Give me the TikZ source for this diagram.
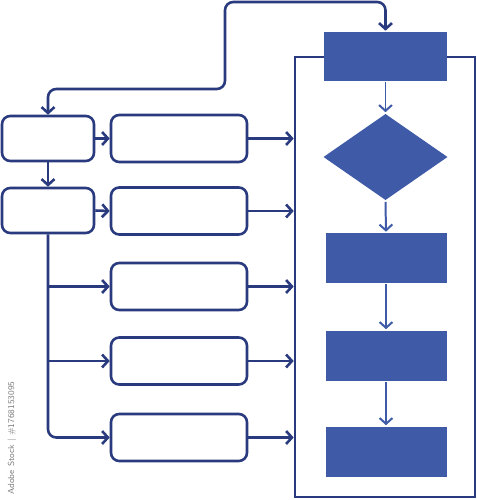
\documentclass[tikz,border=0pt]{standalone}
\usetikzlibrary{arrows.meta, shapes.geometric}
\definecolor{navy}{HTML}{2A3A7E}
\definecolor{chartblue}{HTML}{3F5BA8}

\begin{document}
\begin{tikzpicture}[x=0.03cm, y=-0.03cm,
  line width=2.2pt, navy,
  tip/.style={-{Straight Barb[length=5pt,width=11pt]}},
  leftbox/.style={draw, rounded corners=7pt, minimum width=2.76cm, minimum height=1.35cm},
  midbox/.style={draw, rounded corners=7pt, minimum width=4.08cm, minimum height=1.41cm},
  procbox/.style={fill=chartblue, draw=none, minimum width=3.63cm, minimum height=1.5cm},
  flow/.style={tip, chartblue, line width=1.7pt}]
\useasboundingbox (0,0) rectangle (477,500);

% outer frame on the right
\node[draw, minimum width=5.4cm, minimum height=13.2cm, inner sep=0] (frame) at (385,277) {};

% left column
\node[leftbox] (start) at (48,138.5) {};
\node[leftbox] (split) at (48,210.5) {};

% middle column
\node[midbox] (b1) at (179,138.5) {};
\node[midbox] (b2) at (179,211) {};
\node[midbox] (b3) at (179,286.5) {};
\node[midbox] (b4) at (179,361) {};
\node[midbox] (b5) at (179,437.5) {};

% right column
\node[fill=chartblue, minimum width=3.69cm, minimum height=1.47cm] (top) at (385.5,56.5) {};
\node[diamond, fill=chartblue, inner sep=0, minimum width=3.75cm, minimum height=2.61cm] (dec) at (385.5,157) {};
\node[procbox] (p1) at (386,258) {};
\node[procbox] (p2) at (386,355.5) {};
\node[procbox] (p3) at (386,451.5) {};

% loop back
\coordinate (bendA) at (225,89);
\coordinate (bendB) at (225,2);
\draw[{Straight Barb[length=5pt,width=11pt]}-{Straight Barb[length=5pt,width=11pt]}, rounded corners=7pt]
  (start.north) |- (bendA) -- (bendB) -| (top.north);

\draw[tip] (start.east) -- (b1.west);
\draw[tip] (split.east) -- (b2.west);
\draw[tip] (start.south) -- (split.north);
\draw[tip, rounded corners=7pt] (split.south) |- (b5.west);
\draw[tip] (split.south |- b3.west) -- (b3.west);
\draw[tip] (split.south |- b4.west) -- (b4.west);

\foreach \b in {b1,b2,b3,b4,b5}
  \draw[tip] (\b.east) -- (\b.east -| frame.west);

\draw[flow] (top.south) -- (dec.north);
\draw[flow] (dec.south) -- (p1.north);
\draw[flow] (p1.south) -- (p2.north);
\draw[flow] (p2.south) -- (p3.north);

\node[rotate=90, gray, font=\sffamily\fontsize{7.5}{8}\selectfont] (mark) at (12,438) {Adobe Stock | \#1768153095};
\end{tikzpicture}
\end{document}
